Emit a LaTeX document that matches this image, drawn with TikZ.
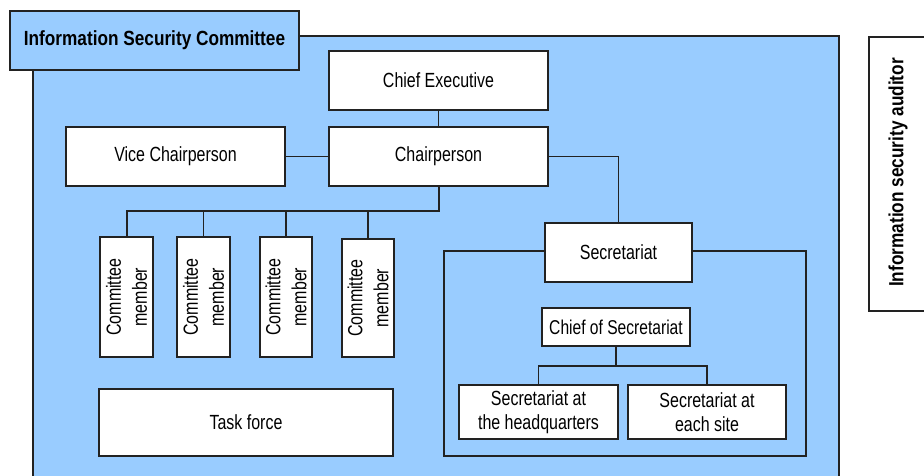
\documentclass[tikz,border=0pt]{standalone}
\usepackage{fontspec}
\setmainfont{Liberation Sans}[FakeStretch=0.78]
\newfontfamily\hdrfont{Liberation Sans}[FakeStretch=0.84]
\definecolor{skyblue}{HTML}{99CCFF}
\definecolor{linegray}{HTML}{222222}
\begin{document}
\begin{tikzpicture}[x=1pt,y=-1pt,
  line width=1.3pt, draw=linegray,
  box/.style={draw=linegray, line width=1.3pt, fill=white, inner sep=0pt, align=center,
    font=\fontsize{20.5}{24.5}\selectfont},
  vbox/.style={box, rotate=90, font=\fontsize{20.5}{26}\selectfont},
  bus/.style={draw=linegray, line width=1.4pt},
  thickbus/.style={draw=linegray, line width=2pt}]
\useasboundingbox (0,0) rectangle (924,476);
\clip (0,0) rectangle (924,476);
% committee area
\fill[skyblue] (33,36) rectangle (839,476);
\draw (33,476) -- (33,36) -- (839,36) -- (839,476);
\node[box, fill=skyblue, minimum width=289pt, minimum height=59pt,
  font=\hdrfont\bfseries\fontsize{20.5}{24}\selectfont] (hdr) at (154.5,40.5) {Information Security Committee};
% top nodes
\node[box, minimum width=219pt, minimum height=59pt] (ce) at (438.5,80.5) {Chief Executive};
\node[box, minimum width=219pt, minimum height=59pt] (ch) at (438.5,156.5) {Chairperson};
\node[box, minimum width=219pt, minimum height=59pt] (vc) at (175.5,156.5) {Vice Chairperson};
% committee members
\node[vbox, minimum width=120pt, minimum height=53pt] (cm1) at (126.5,297) {Committee\\member};
\node[vbox, minimum width=120pt, minimum height=53pt] (cm2) at (203.5,297) {Committee\\member};
\node[vbox, minimum width=120pt, minimum height=52pt] (cm3) at (286,297) {Committee\\member};
\node[vbox, minimum width=118pt, minimum height=52pt] (cm4) at (368,298) {Committee\\member};
\node[box, minimum width=294pt, minimum height=67pt] (tf) at (246,422.5) {Task force};
% secretariat group
\node[draw=linegray, fill=skyblue, inner sep=0pt, minimum width=362pt, minimum height=205pt] (secgrp) at (625,353.5) {};
\node[box, minimum width=147pt, minimum height=59pt] (sec) at (618.5,252.5) {Secretariat};
\node[box, minimum width=148pt, minimum height=38pt, font=\fontsize{20}{24}\selectfont] (cos) at (616,327) {Chief of Secretariat};
\node[box, minimum width=159pt, minimum height=54pt] (hq) at (538.5,412) {Secretariat at\\the headquarters};
\node[box, minimum width=158pt, minimum height=54pt] (site) at (707,412) {Secretariat at\\each site};
% auditor
\draw (930,37) -- (869,37) -- (869,311) -- (930,311);
\node[rotate=90, inner sep=0pt, font=\hdrfont\bfseries\fontsize{20.5}{24}\selectfont] (aud) at (898,172.5) {Information security auditor};
% connectors
\coordinate (cbus) at (438.5,211);
\coordinate (sbus) at (616,366);
\draw[bus] (ce.south) -- (ch.north);
\draw[bus] (vc.east) -- (ch.west);
\draw[thickbus] (ch.south) -- (cbus) -| (cm1.east);
\draw[bus] (cm2.east) -- (cm2.east |- cbus);
\draw[bus] (cm3.east) -- (cm3.east |- cbus);
\draw[bus] (cm4.east) -- (cm4.east |- cbus);
\draw[bus] (ch.east) -| (sec.north);
\draw[thickbus] (cos.south) -- (sbus);
\draw[bus] (hq.north) |- (sbus) -| (site.north);
\end{tikzpicture}
\end{document}
